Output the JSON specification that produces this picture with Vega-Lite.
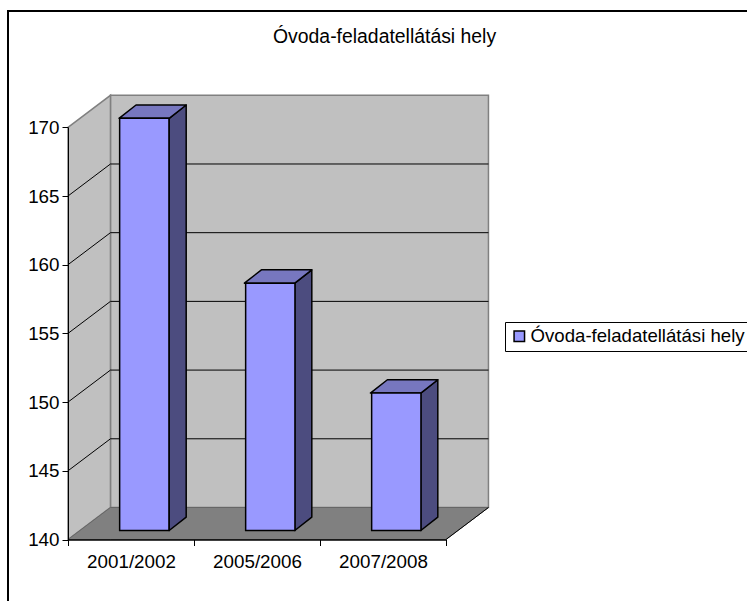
{
"$schema":"https://vega.github.io/schema/vega-lite/v6.json",
"width":760,"height":600,
"autosize":"none",
"padding":{"left":8,"top":11,"right":0,"bottom":0},
"background":"white",
"view":{"stroke":"black","strokeWidth":2,"fill":null},
"title":{"text":"Óvoda-feladatellátási hely","anchor":"start","frame":"group","dx":265,"offset":-36,"font":"Liberation Sans","fontSize":19.4,"fontWeight":"normal","color":"black"},
"datasets":{
"bars":[
{"year":"2001/2002","value":170,"series":"Óvoda-feladatellátási hely"},
{"year":"2005/2006","value":158,"series":"Óvoda-feladatellátási hely"},
{"year":"2007/2008","value":150,"series":"Óvoda-feladatellátási hely"}],
"back":[{"u":0.337,"lo":142.33,"hi":172.33},{"u":3.337,"lo":142.33,"hi":172.33}],
"left":[{"u":0,"lo":140,"hi":170},{"u":0.337,"lo":142.33,"hi":172.33}],
"floor":[{"u":0,"lo":140,"hi":140},{"u":0.337,"lo":140,"hi":142.33},{"u":3,"lo":140,"hi":142.33},{"u":3.337,"lo":142.33,"hi":142.33}],
"grid":[
{"g":"145","u":0,"hi":145},{"g":"145","u":0.337,"hi":147.33},{"g":"145","u":3.337,"hi":147.33},
{"g":"150","u":0,"hi":150},{"g":"150","u":0.337,"hi":152.33},{"g":"150","u":3.337,"hi":152.33},
{"g":"155","u":0,"hi":155},{"g":"155","u":0.337,"hi":157.33},{"g":"155","u":3.337,"hi":157.33},
{"g":"160","u":0,"hi":160},{"g":"160","u":0.337,"hi":162.33},{"g":"160","u":3.337,"hi":162.33},
{"g":"165","u":0,"hi":165},{"g":"165","u":0.337,"hi":167.33},{"g":"165","u":3.337,"hi":167.33},
{"g":"edge","u":3,"hi":140},{"g":"edge","u":3.337,"hi":142.33}],
"side":[
{"bar":"a","u":0.803,"lo":140.655,"hi":170.655},{"bar":"a","u":0.938,"lo":141.625,"hi":171.625},
{"bar":"b","u":1.8,"lo":140.655,"hi":158.655},{"bar":"b","u":1.935,"lo":141.625,"hi":159.625},
{"bar":"c","u":2.8,"lo":140.655,"hi":150.655},{"bar":"c","u":2.935,"lo":141.625,"hi":151.625}],
"topface":[
{"bar":"a","u":0.405,"lo":170.655,"hi":170.655},{"bar":"a","u":0.54,"lo":170.655,"hi":171.625},{"bar":"a","u":0.803,"lo":170.655,"hi":171.625},{"bar":"a","u":0.938,"lo":171.625,"hi":171.625},
{"bar":"b","u":1.4,"lo":158.655,"hi":158.655},{"bar":"b","u":1.535,"lo":158.655,"hi":159.625},{"bar":"b","u":1.8,"lo":158.655,"hi":159.625},{"bar":"b","u":1.935,"lo":159.625,"hi":159.625},
{"bar":"c","u":2.4,"lo":150.655,"hi":150.655},{"bar":"c","u":2.535,"lo":150.655,"hi":151.625},{"bar":"c","u":2.8,"lo":150.655,"hi":151.625},{"bar":"c","u":2.935,"lo":151.625,"hi":151.625}]
},
"resolve":{"scale":{"x":"independent","color":"independent"}},
"layer":[
{
"encoding":{
"x":{"field":"u","type":"quantitative","axis":null,"scale":{"domain":[0,3],"range":[60,438],"nice":false,"zero":false}},
"y":{"field":"hi","type":"quantitative","title":null,"scale":{"domain":[140,170],"range":[528.5,116.3],"nice":false,"zero":false},
"axis":{"orient":"left","offset":-60,"zindex":1,"values":[140,145,150,155,160,165,170],"labelFont":"Liberation Sans","labelFontSize":18.8,"labelColor":"black","labelPadding":3,"tickSize":6,"tickColor":"black","domainColor":"black","domainWidth":1,"grid":false}}
},
"layer":[
{"data":{"name":"back"},"mark":{"type":"area","fill":"#C0C0C0","stroke":"#808080","strokeWidth":1.5},"encoding":{"y2":{"field":"lo"}}},
{"data":{"name":"left"},"mark":{"type":"area","fill":"#C0C0C0","stroke":"#808080","strokeWidth":1.5},"encoding":{"y2":{"field":"lo"}}},
{"data":{"name":"floor"},"mark":{"type":"area","fill":"#808080","stroke":"#666666","strokeWidth":1},"encoding":{"y2":{"field":"lo"}}},
{"data":{"name":"grid"},"mark":{"type":"line","color":"black","strokeWidth":1},"encoding":{"detail":{"field":"g"}}},
{"data":{"name":"side"},"mark":{"type":"area","fill":"#4C4C7F","stroke":"black","strokeWidth":1.5,"strokeJoin":"round"},"encoding":{"y2":{"field":"lo"},"detail":{"field":"bar"}}},
{"data":{"name":"topface"},"mark":{"type":"area","fill":"#7777BF","stroke":"black","strokeWidth":1.5,"strokeJoin":"round"},"encoding":{"y2":{"field":"lo"},"detail":{"field":"bar"}}}
]
},
{
"data":{"name":"bars"},
"mark":{"type":"bar","width":49.3,"xOffset":13.3,"yOffset":-9,"y2Offset":-9,"stroke":"black","strokeWidth":1.5},
"encoding":{
"x":{"field":"year","type":"nominal","sort":null,"title":null,"scale":{"range":[60,438],"paddingInner":0,"paddingOuter":0},
"axis":{"orient":"bottom","offset":-71.5,"zindex":1,"tickBand":"extent","labelAngle":0,"labelFont":"Liberation Sans","labelFontSize":18.8,"labelColor":"black","labelPadding":7,"tickSize":6,"tickColor":"black","domainColor":"black","domainWidth":1.5,"grid":false}},
"y":{"field":"value","type":"quantitative","title":null},
"y2":{"datum":140},
"fill":{"field":"series","type":"nominal","scale":{"range":["#9999FF"]},
"legend":{"orient":"none","legendX":497,"legendY":311,"title":null,"strokeColor":"black","fillColor":"white","padding":5,"symbolType":"square","symbolSize":110,"symbolStrokeColor":"black","symbolStrokeWidth":1.5,"labelFont":"Liberation Sans","labelFontSize":18.6,"labelColor":"black","labelLimit":400,"labelOffset":2}}
}
}
]
}
